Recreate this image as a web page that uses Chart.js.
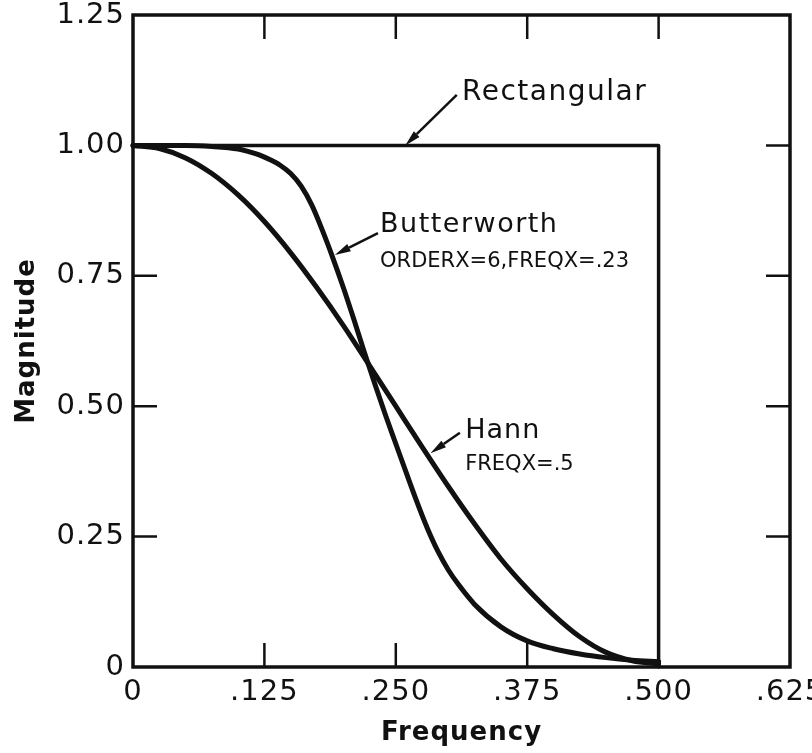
<!DOCTYPE html>
<html>
<head>
<meta charset="utf-8">
<script src="https://cdn.jsdelivr.net/npm/chart.js@4.4.1/dist/chart.umd.min.js"></script>
<style>
    body { margin: 0; background: #fff; }
    canvas { display: block; }
</style>
</head>
<body>
<canvas id="janelasChart" width="812" height="753"></canvas>
<script>

// Dados
const xTickLabels = ['0', '.125', '.250', '.375', '.500', '.625'];
const yTickLabels = ['0', '0.25', '0.50', '0.75', '1.00', '1.25'];

const rectFreq = [0, 0.5, 0.5];
const rectMag = [1, 1, 0];

const butterFreq = [0, 0.05, 0.075, 0.1, 0.11, 0.12, 0.13, 0.14, 0.15, 0.16, 0.17, 0.18, 0.19, 0.2, 0.21, 0.22, 0.23, 0.24, 0.25, 0.26, 0.27, 0.28, 0.29, 0.3, 0.31, 0.325, 0.35, 0.375, 0.4, 0.425, 0.45, 0.475, 0.5];
const butterMag = [1.0, 1.0, 0.998, 0.993, 0.988, 0.982, 0.973, 0.962, 0.946, 0.922, 0.886, 0.838, 0.785, 0.728, 0.667, 0.604, 0.543, 0.484, 0.428, 0.372, 0.317, 0.266, 0.222, 0.186, 0.157, 0.12, 0.077, 0.05, 0.035, 0.025, 0.018, 0.013, 0.01];

const hannFreq = [0, 0.025, 0.05, 0.075, 0.1, 0.125, 0.15, 0.175, 0.2, 0.225, 0.25, 0.275, 0.3, 0.325, 0.35, 0.375, 0.4, 0.425, 0.45, 0.475, 0.5];
const hannMag = [1.0, 0.994, 0.976, 0.946, 0.905, 0.854, 0.794, 0.727, 0.655, 0.578, 0.5, 0.422, 0.346, 0.274, 0.207, 0.15, 0.1, 0.058, 0.028, 0.012, 0.006];

// Textos das curvas (posicao em unidades do grafico)
const notas = [
    { text: 'Rectangular', x: 0.313, y: 1.087, size: 28, spacing: 1.5 },
    { text: 'Butterworth', x: 0.235, y: 0.834, size: 27, spacing: 1.5 },
    { text: 'ORDERX=6,FREQX=.23', x: 0.235, y: 0.767, size: 21, spacing: 0 },
    { text: 'Hann', x: 0.316, y: 0.439, size: 27, spacing: 1 },
    { text: 'FREQX=.5', x: 0.316, y: 0.378, size: 21, spacing: 0 }
];
const setas = [
    { x1: 0.308, y1: 1.097, x2: 0.259, y2: 1.0 },
    { x1: 0.233, y1: 0.832, x2: 0.192, y2: 0.79 },
    { x1: 0.311, y1: 0.449, x2: 0.283, y2: 0.41 }
];

const fonte = "'DejaVu Sans', sans-serif";
const tinta = '#111';

function juntaPontos(xs, ys) {
    return xs.map(function (x, i) {
        return { x: x, y: ys[i] };
    });
}

// moldura com marcas para dentro nos quatro lados
const molduraPlugin = {
    id: 'moldura',
    beforeDraw: function (chart) {
        chart.ctx.letterSpacing = '1px';
    },
    afterDatasetsDraw: function (chart) {
        var ctx = chart.ctx;
        var a = chart.chartArea;
        var sx = chart.scales.x;
        var sy = chart.scales.y;
        var tam = 24;
        ctx.save();
        ctx.strokeStyle = tinta;
        ctx.lineWidth = 3.5;
        ctx.strokeRect(a.left, a.top, a.right - a.left, a.bottom - a.top);
        ctx.lineWidth = 2.5;
        ctx.beginPath();
        sx.ticks.forEach(function (t) {
            var px = sx.getPixelForValue(t.value);
            if (px <= a.left + 2 || px >= a.right - 2) return;
            ctx.moveTo(px, a.bottom); ctx.lineTo(px, a.bottom - tam);
            ctx.moveTo(px, a.top); ctx.lineTo(px, a.top + tam);
        });
        sy.ticks.forEach(function (t) {
            var py = sy.getPixelForValue(t.value);
            if (py <= a.top + 2 || py >= a.bottom - 2) return;
            ctx.moveTo(a.left, py); ctx.lineTo(a.left + tam, py);
            ctx.moveTo(a.right, py); ctx.lineTo(a.right - tam, py);
        });
        ctx.stroke();
        ctx.restore();
    },
    afterDraw: function (chart) {
        var ctx = chart.ctx;
        var sx = chart.scales.x;
        var sy = chart.scales.y;
        ctx.save();
        ctx.fillStyle = tinta;
        ctx.strokeStyle = tinta;
        ctx.textBaseline = 'alphabetic';
        ctx.textAlign = 'left';
        notas.forEach(function (n) {
            ctx.font = n.size + 'px ' + fonte;
            ctx.letterSpacing = n.spacing + 'px';
            ctx.fillText(n.text, sx.getPixelForValue(n.x), sy.getPixelForValue(n.y));
        });
        setas.forEach(function (s) {
            var x1 = sx.getPixelForValue(s.x1), y1 = sy.getPixelForValue(s.y1);
            var x2 = sx.getPixelForValue(s.x2), y2 = sy.getPixelForValue(s.y2);
            var ang = Math.atan2(y2 - y1, x2 - x1);
            var len = 16, lar = 4;
            ctx.lineWidth = 2.5;
            ctx.beginPath();
            ctx.moveTo(x1, y1);
            ctx.lineTo(x2 - Math.cos(ang) * len, y2 - Math.sin(ang) * len);
            ctx.stroke();
            ctx.beginPath();
            ctx.moveTo(x2, y2);
            ctx.lineTo(x2 - Math.cos(ang) * len - Math.sin(ang) * lar, y2 - Math.sin(ang) * len + Math.cos(ang) * lar);
            ctx.lineTo(x2 - Math.cos(ang) * len + Math.sin(ang) * lar, y2 - Math.sin(ang) * len - Math.cos(ang) * lar);
            ctx.closePath();
            ctx.fill();
        });
        ctx.restore();
    }
};

function criarGrafico() {
    var ctx = document.getElementById('janelasChart').getContext('2d');
    var linha = {
        borderColor: tinta,
        pointRadius: 0,
        fill: false,
        clip: false,
        borderJoinStyle: 'round',
        borderCapStyle: 'round'
    };

    new Chart(ctx, {
        type: 'line',
        data: {
            datasets: [
                Object.assign({ label: 'Rectangular', data: juntaPontos(rectFreq, rectMag), borderWidth: 3.5, tension: 0 }, linha),
                Object.assign({ label: 'Butterworth', data: juntaPontos(butterFreq, butterMag), borderWidth: 5, cubicInterpolationMode: 'monotone' }, linha),
                Object.assign({ label: 'Hann', data: juntaPontos(hannFreq, hannMag), borderWidth: 5, cubicInterpolationMode: 'monotone' }, linha)
            ]
        },
        options: {
            responsive: false,
            animation: false,
            layout: { padding: { top: 15, right: 22, left: 0, bottom: 0 } },
            plugins: {
                legend: { display: false },
                tooltip: { enabled: false }
            },
            scales: {
                x: {
                    type: 'linear',
                    min: 0,
                    max: 0.625,
                    grid: { display: false, drawTicks: false },
                    border: { display: false },
                    ticks: {
                        stepSize: 0.125,
                        padding: 8,
                        color: tinta,
                        maxRotation: 0,
                        font: { family: fonte, size: 29 },
                        callback: function (value) {
                            return xTickLabels[Math.round(value / 0.125)];
                        }
                    },
                    title: {
                        display: true,
                        text: 'Frequency',
                        color: tinta,
                        font: { family: fonte, size: 26, weight: 'bold' },
                        padding: { top: 0, bottom: 4 }
                    },
                    afterFit: function (scale) {
                        scale.height = 86;
                        scale.paddingLeft = 0;
                        scale.paddingRight = 0;
                    }
                },
                y: {
                    min: 0,
                    max: 1.25,
                    grid: { display: false, drawTicks: false },
                    border: { display: false },
                    ticks: {
                        stepSize: 0.25,
                        padding: 8,
                        color: tinta,
                        font: { family: fonte, size: 29 },
                        callback: function (value) {
                            return yTickLabels[Math.round(value / 0.25)];
                        }
                    },
                    title: {
                        display: true,
                        text: 'Magnitude',
                        color: tinta,
                        font: { family: fonte, size: 26, weight: 'bold' },
                        padding: { top: 12, bottom: 0 }
                    },
                    afterFit: function (scale) {
                        scale.width = 133;
                        scale.paddingTop = 0;
                        scale.paddingBottom = 0;
                    }
                }
            }
        },
        plugins: [molduraPlugin]
    });
}

criarGrafico();

</script>
</body>
</html>
